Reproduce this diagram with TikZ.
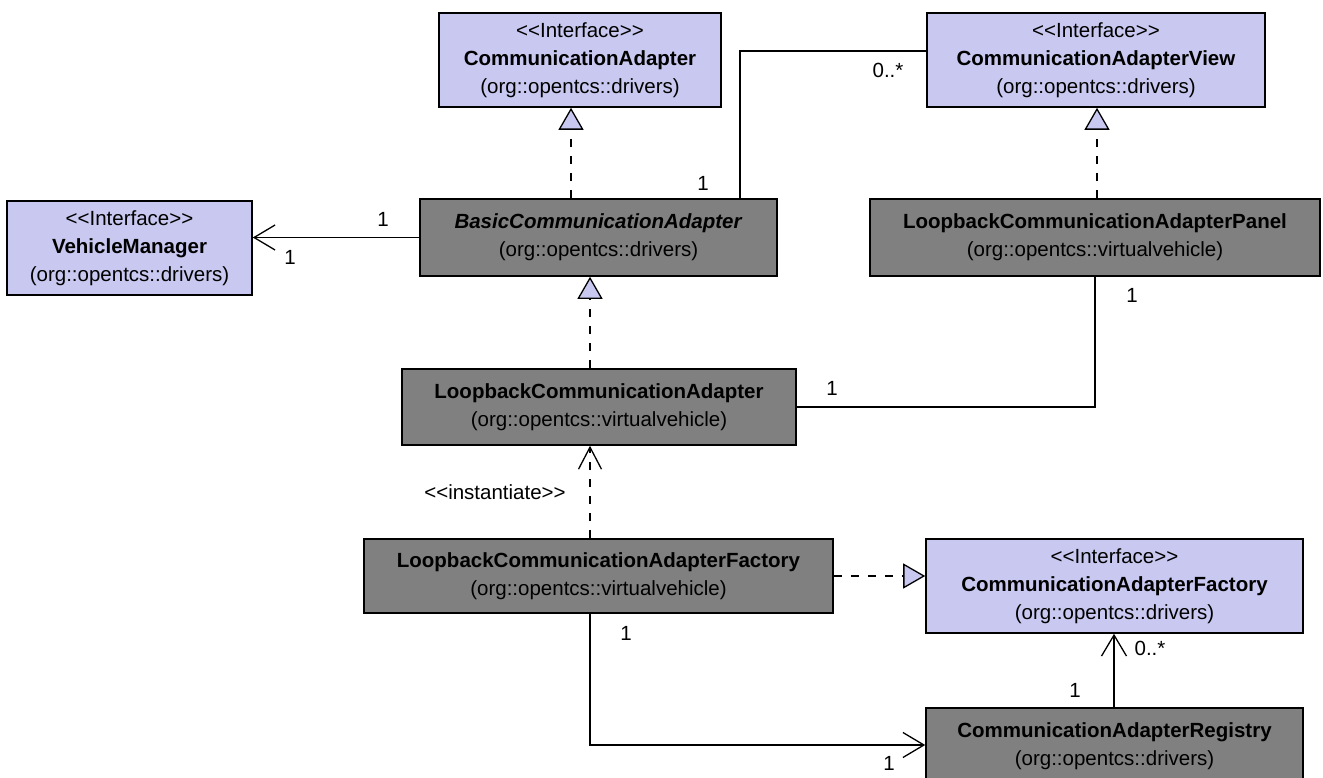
\documentclass[tikz,border=0pt]{standalone}
\usepackage{fontspec}
\setmainfont{Liberation Sans}
\usetikzlibrary{arrows.meta}
\definecolor{ifacefill}{RGB}{200,200,240}
\definecolor{classfill}{RGB}{128,128,128}
% the kerns keep the two angle brackets from merging into a guillemet
\newcommand{\stereo}[1]{\textless\kern0pt\textless\kern0pt #1\kern0pt\textgreater\kern0pt\textgreater}

\begin{document}
\begin{tikzpicture}[x=1pt,y=-1pt,
  every node/.style={font=\fontsize{20.5}{28}\selectfont},
  box/.style={draw=black, line width=1.6pt, rectangle, inner sep=0pt, align=center},
  iface/.style={box, fill=ifacefill},
  cls/.style={box, fill=classfill},
  conn/.style={line width=1.3pt, draw=black},
  realize/.style={conn, dash pattern=on 8pt off 9pt,
    -{Triangle[length=22pt,width=25pt,fill=ifacefill,line width=1.3pt]}},
  navig/.style={conn, -{Straight Barb[length=21pt,width=25pt,line width=1.3pt]}},
  instdep/.style={conn, dash pattern=on 8pt off 9pt,
    -{Straight Barb[length=22pt,width=23pt,line width=1.3pt]}},
  mult/.style={inner sep=0pt, anchor=center},
]
\useasboundingbox (0,0) rectangle (1323,778);

% classes and interfaces
\node[iface, minimum width=282pt, minimum height=94pt] (ca) at (580,60)
  {\stereo{Interface}\\\textbf{CommunicationAdapter}\\(org::opentcs::drivers)};
\node[iface, minimum width=338pt, minimum height=94pt] (cav) at (1096,60)
  {\stereo{Interface}\\\textbf{CommunicationAdapterView}\\(org::opentcs::drivers)};
\node[iface, minimum width=245pt, minimum height=94pt] (vm) at (129.5,248)
  {\stereo{Interface}\\\textbf{VehicleManager}\\(org::opentcs::drivers)};
\node[cls, minimum width=357pt, minimum height=77pt] (bca) at (598.5,237.5)
  {\textbf{\textit{BasicCommunicationAdapter}}\\(org::opentcs::drivers)};
\node[cls, minimum width=450pt, minimum height=77pt] (pan) at (1095,237.5)
  {\textbf{LoopbackCommunicationAdapterPanel}\\(org::opentcs::virtualvehicle)};
\node[cls, minimum width=394pt, minimum height=76pt] (lca) at (599,407)
  {\textbf{LoopbackCommunicationAdapter}\\(org::opentcs::virtualvehicle)};
\node[cls, minimum width=469pt, minimum height=74pt] (lcaf) at (598.5,576)
  {\textbf{LoopbackCommunicationAdapterFactory}\\(org::opentcs::virtualvehicle)};
\node[iface, minimum width=377pt, minimum height=94pt] (caf) at (1114.5,586)
  {\stereo{Interface}\\\textbf{CommunicationAdapterFactory}\\(org::opentcs::drivers)};
\node[cls, minimum width=377pt, minimum height=77pt] (reg) at (1114.5,746.5)
  {\textbf{CommunicationAdapterRegistry}\\(org::opentcs::drivers)};

% routing columns and rows
\coordinate (colC) at (571,0);
\coordinate (colA) at (590,0);
\coordinate (colV) at (740,51);
\coordinate (colP) at (1097,0);
\coordinate (colQ) at (1095,0);
\coordinate (colR) at (1114,0);
\coordinate (rowR) at (0,745);

% realizations
\draw[realize] (bca.north -| colC) -- (colC |- ca.south);
\draw[realize] (pan.north -| colP) -- (colP |- cav.south);
\draw[realize] (lca.north -| colA) -- (colA |- bca.south);
\draw[realize] (lcaf.east) -- (lcaf.east -| caf.west);

% instantiation dependency
\draw[instdep] (lcaf.north -| colA) -- (colA |- lca.south);
\node[mult] (lInst) at (495,492) {\stereo{instantiate}};

% associations
\draw[navig] (bca.west) -- (bca.west -| vm.east);
\node[mult] (m1) at (383,219) {1};
\node[mult] (m2) at (290,257) {1};

\draw[conn] (bca.north -| colV) |- (colV -| cav.west);
\node[mult] (m3) at (703,183) {1};
\node[mult] (m4) at (888,70) {0..*};

\draw[conn] (pan.south -| colQ) |- (lca.east);
\node[mult] (m5) at (1132,295) {1};
\node[mult] (m6) at (832,388) {1};

\draw[navig] (reg.north -| colR) -- (colR |- caf.south);
\node[mult] (m7) at (1150,648) {0..*};
\node[mult] (m8) at (1075,690) {1};

\draw[navig] (lcaf.south -| colA) |- (rowR -| reg.west);
\node[mult] (m9) at (626,633) {1};
\node[mult] (m10) at (889,763) {1};
\end{tikzpicture}
\end{document}
